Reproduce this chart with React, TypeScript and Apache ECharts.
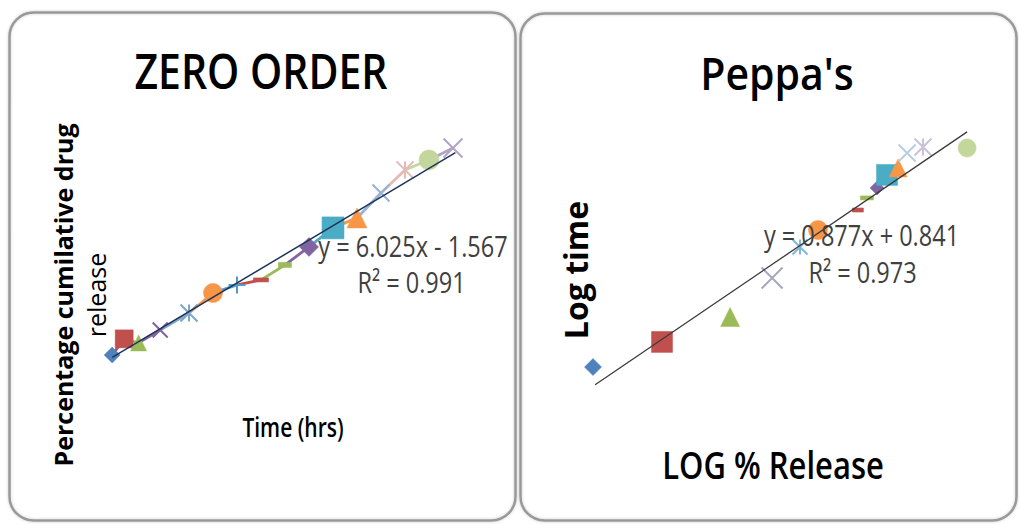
import React, { useEffect, useRef } from "react";
import * as echarts from "echarts";

// ---- Zero order: time (hrs) vs percentage cumulative drug release ----
const releaseTime = [1.8, 2.3, 2.9, 3.8, 5, 6, 7, 8, 9, 10, 11, 12, 13, 14, 15, 16];
const cumulativeRelease = [10.3, 17.1, 15.4, 20.8, 28.0, 36.4, 39.8, 41.9, 48.2, 55.8, 63.8, 68.0, 78.5, 88.2, 92.4, 97.4];
const zeroSlope = 6.025;
const zeroIntercept = -1.567;
const zeroR2 = "0.991";
const zeroFitRange = [1.8, 16.1];

// ---- Peppas: log % release vs log time ----
const logRelease = [0.11, 0.34, 0.567, 0.707, 0.8, 0.86, 0.993, 1.023, 1.057, 1.09, 1.127, 1.157, 1.21, 1.357];
const logTime = [1.02, 1.128, 1.235, 1.403, 1.536, 1.609, 1.695, 1.747, 1.79, 1.846, 1.876, 1.94, 1.966, 1.962];
const peppasSlope = 0.877;
const peppasIntercept = 0.841;
const peppasR2 = "0.973";
const peppasFitRange = [0.117, 1.357];

// ---- marker styling (Excel-like "vary colours by point") ----
const X_MARK = "path://M0,0L10,10M10,0L0,10";
const STAR_MARK = "path://M0,0L10,10M10,0L0,10M5,0L5,10";
const PLUS_MARK = "path://M5,0L5,10M0,5L10,5";

type Mark = { symbol: string; color: string; size: number | number[]; stroke?: boolean };

const zeroMarks: Mark[] = [
  { symbol: "diamond", color: "#4F81BD", size: 16 },
  { symbol: "rect", color: "#C0504D", size: 18 },
  { symbol: "triangle", color: "#9BBB59", size: 16 },
  { symbol: X_MARK, color: "#8064A2", size: 15, stroke: true },
  { symbol: STAR_MARK, color: "#7FA7C9", size: 17, stroke: true },
  { symbol: "circle", color: "#F79646", size: 19 },
  { symbol: PLUS_MARK, color: "#4F9BD0", size: 17, stroke: true },
  { symbol: "rect", color: "#C0504D", size: [15, 4] },
  { symbol: "rect", color: "#9BBB59", size: [13, 5] },
  { symbol: "diamond", color: "#8064A2", size: 19 },
  { symbol: "rect", color: "#4BACC6", size: 22 },
  { symbol: "triangle", color: "#F79646", size: 20 },
  { symbol: X_MARK, color: "#95B3D7", size: 17, stroke: true },
  { symbol: STAR_MARK, color: "#E6B9B8", size: 17, stroke: true },
  { symbol: "circle", color: "#C3D69B", size: 20 },
  { symbol: X_MARK, color: "#B3A2C7", size: 19, stroke: true },
];

const peppasMarks: Mark[] = [
  { symbol: "diamond", color: "#4F81BD", size: 17 },
  { symbol: "rect", color: "#C0504D", size: 21 },
  { symbol: "triangle", color: "#9BBB59", size: 19 },
  { symbol: X_MARK, color: "#A6A6BF", size: 21, stroke: true },
  { symbol: STAR_MARK, color: "#7FB8D8", size: 15, stroke: true },
  { symbol: "circle", color: "#F79646", size: 19 },
  { symbol: "rect", color: "#C0504D", size: [11, 4] },
  { symbol: "rect", color: "#9BBB59", size: [13, 4] },
  { symbol: "diamond", color: "#8064A2", size: 14 },
  { symbol: "rect", color: "#4BACC6", size: 21 },
  { symbol: "triangle", color: "#F79646", size: 18 },
  { symbol: X_MARK, color: "#B9CDE5", size: 17, stroke: true },
  { symbol: STAR_MARK, color: "#CCC0DA", size: 17, stroke: true },
  { symbol: "circle", color: "#C3D69B", size: 18 },
];

const FONT = "'Open Sans', 'Noto Sans', sans-serif";

function markerData(xs: number[], ys: number[], marks: Mark[]) {
  return xs.map((x, i) => {
    const m = marks[i];
    return {
      value: [x, ys[i]],
      symbol: m.symbol,
      symbolSize: m.size,
      itemStyle: m.stroke
        ? { color: "none", borderColor: m.color, borderWidth: 2, opacity: 1 }
        : { color: m.color, borderColor: m.color, borderWidth: 0.5, opacity: 1 },
    };
  });
}

function fitLine(slope: number, intercept: number, range: number[]) {
  return range.map((x) => [x, slope * x + intercept]);
}

function label(
  text: string,
  x: number,
  y: number,
  size: number,
  opts: { weight?: string | number; color?: string; rotation?: number; scaleX?: number; scaleY?: number } = {}
) {
  return {
    type: "text",
    x,
    y,
    rotation: opts.rotation ?? 0,
    scaleX: opts.scaleX ?? 1,
    scaleY: opts.scaleY ?? 1,
    z: 100,
    silent: true,
    style: {
      text,
      fontFamily: FONT,
      fontSize: size,
      fontWeight: opts.weight ?? "normal",
      fill: opts.color ?? "#000",
      align: "center",
      textAlign: "center",
      verticalAlign: "middle",
      textVerticalAlign: "middle",
    },
  };
}

export default function App() {
  const ref = useRef<HTMLDivElement>(null);

  useEffect(() => {
    if (!ref.current) return;
    const chart = echarts.init(ref.current, undefined, { renderer: "svg" });

    // colored segments of the zero-order release curve
    const segments = releaseTime.slice(1).map((t, k) => {
      const i = k + 1;
      return {
        type: "line",
        xAxisIndex: 0,
        yAxisIndex: 0,
        data: [
          [releaseTime[i - 1], cumulativeRelease[i - 1]],
          [t, cumulativeRelease[i]],
        ],
        symbol: "none",
        silent: true,
        z: 2,
        lineStyle: { color: zeroMarks[i].color, width: 2.8 },
      };
    });

    chart.setOption({
      animation: false,
      backgroundColor: "#fff",
      grid: [
        { left: 69, top: 118.1, width: 432, height: 261.4 },
        { left: 560, top: 22.8, width: 450, height: 465.2 },
      ],
      xAxis: [
        { gridIndex: 0, type: "value", min: 0, max: 18, show: false },
        { gridIndex: 1, type: "value", min: 0, max: 1.5, show: false },
      ],
      yAxis: [
        { gridIndex: 0, type: "value", min: 0, max: 110, show: false },
        { gridIndex: 1, type: "value", min: 0.5, max: 2.5, show: false },
      ],
      series: [
        ...segments,
        {
          type: "scatter",
          xAxisIndex: 0,
          yAxisIndex: 0,
          z: 3,
          silent: true,
          data: markerData(releaseTime, cumulativeRelease, zeroMarks),
        },
        {
          type: "line",
          xAxisIndex: 0,
          yAxisIndex: 0,
          z: 4,
          symbol: "none",
          silent: true,
          data: fitLine(zeroSlope, zeroIntercept, zeroFitRange),
          lineStyle: { color: "#1F3358", width: 1.5 },
        },
        {
          type: "scatter",
          xAxisIndex: 1,
          yAxisIndex: 1,
          z: 3,
          silent: true,
          data: markerData(logRelease, logTime, peppasMarks),
        },
        {
          type: "line",
          xAxisIndex: 1,
          yAxisIndex: 1,
          z: 4,
          symbol: "none",
          silent: true,
          data: fitLine(peppasSlope, peppasIntercept, peppasFitRange),
          lineStyle: { color: "#3A3A3A", width: 1.3 },
        },
      ],
      graphic: [
        {
          type: "rect",
          z: 1,
          silent: true,
          shape: { x: 9.5, y: 12.5, width: 506, height: 508, r: 24 },
          style: { fill: "none", stroke: "#999", lineWidth: 2.5, shadowBlur: 3, shadowColor: "rgba(0,0,0,0.2)" },
        },
        {
          type: "rect",
          z: 1,
          silent: true,
          shape: { x: 520.5, y: 13.5, width: 496, height: 507, r: 24 },
          style: { fill: "none", stroke: "#999", lineWidth: 2.5, shadowBlur: 3, shadowColor: "rgba(0,0,0,0.2)" },
        },
        label("ZERO ORDER", 261, 70, 41, { weight: 600, scaleY: 1.18 }),
        label("Peppa's", 777, 72, 41, { weight: 600, scaleY: 1.12 }),
        label(`y = ${zeroSlope}x - ${Math.abs(zeroIntercept)}`, 413, 246, 23.5, { color: "#404040", scaleY: 1.25 }),
        label(`R² = ${zeroR2}`, 411.5, 282, 23.5, { color: "#404040", scaleY: 1.25 }),
        label(`y = ${peppasSlope}x + ${peppasIntercept}`, 861.5, 235, 23.5, { color: "#404040", scaleY: 1.25 }),
        label(`R² = ${peppasR2}`, 862.5, 272, 23.5, { color: "#404040", scaleY: 1.25 }),
        label("Time (hrs)", 293, 426, 21, { weight: 600, scaleY: 1.3 }),
        label("LOG % Release", 773, 464, 31, { weight: 600, scaleY: 1.2 }),
        label("Log time", 575, 270, 32, { weight: "bold", rotation: Math.PI / 2 }),
        label("Percentage cumilative drug", 63, 295, 25, { weight: "bold", rotation: Math.PI / 2 }),
        label("release", 96, 295, 25, { rotation: Math.PI / 2 }),
      ],
    });

    return () => chart.dispose();
  }, []);

  return (
    <div
      ref={ref}
      style={{ position: "fixed", left: 0, top: 0, width: 1019, height: 525, background: "#fff" }}
    />
  );
}
